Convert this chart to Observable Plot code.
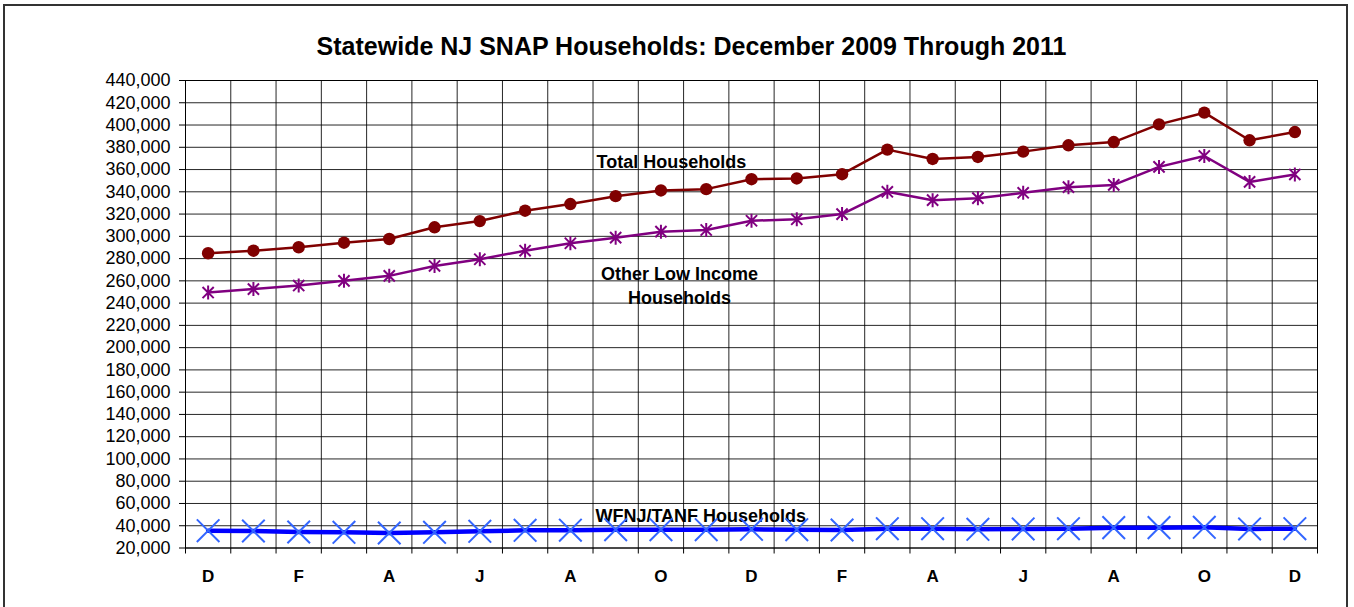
<!DOCTYPE html>
<html>
<head>
<meta charset="utf-8">
<script src="https://cdn.jsdelivr.net/npm/d3@7"></script>
<script src="https://cdn.jsdelivr.net/npm/@observablehq/plot@0.6"></script>
<style>
  html, body { margin: 0; padding: 0; background: #fff; }
  body { width: 1354px; height: 607px; overflow: hidden; position: relative; font-family: "Liberation Sans", Arial, sans-serif; }
  #frame { position: absolute; left: 3px; top: 4px; width: 1345px; height: 640px; border: 2px solid #333; box-sizing: border-box; }
  #title { position: absolute; left: 0; top: 34px; width: 1383px; text-align: center; font-size: 25px; line-height: 25px; font-weight: bold; color: #000; }
  #chart { position: absolute; left: 0; top: 60px; }
</style>
</head>
<body>
<div id="frame"></div>
<div id="title">Statewide NJ SNAP Households: December 2009 Through 2011</div>
<div id="chart"></div>
<script>
// Months from December 2009 through December 2011
const months = ["D","J","F","M","A","M","J","J","A","S","O","N","D","J","F","M","A","M","J","J","A","S","O","N","D"];

const totalHouseholds = [284800, 287100, 290200, 294300, 297600, 308100, 313700, 323000, 329000, 336100, 341200, 342400, 351300, 352000, 355800, 377900, 369500, 371300, 376100, 381800, 384700, 400600, 411100, 386300, 393700];
const otherLowIncome = [249500, 252600, 255800, 260000, 264500, 273400, 279400, 287100, 293800, 298800, 304200, 305700, 314000, 315300, 320000, 340000, 332500, 334300, 339100, 344200, 346200, 362400, 372200, 348900, 355600];
const wfnjTanf = [35600, 35300, 34400, 34100, 33500, 34100, 35000, 35900, 36000, 36500, 36500, 36500, 36800, 36500, 36200, 37400, 37400, 36800, 37100, 37400, 38300, 38300, 38600, 37100, 37400];

const yTicks = d3.range(20000, 440001, 20000);

const seriesLabels = [
  {label: "Total Households", at: 10.23, value: 368200},
  {label: "Other Low Income\nHouseholds", at: 10.41, value: 256800},
  {label: "WFNJ/TANF Households", at: 10.88, value: 50300}
];

const rows = months.map((m, i) => ({i, month: m, total: totalHouseholds[i], other: otherLowIncome[i], wfnj: wfnjTanf[i]}));
const bounds = d3.range(months.length + 1).map(k => k - 0.5);
const labelIdx = d3.range(0, months.length, 2);

const xSymbol = {
  draw(ctx, size) {
    const r = Math.sqrt(size / Math.PI);
    ctx.moveTo(-r, -r); ctx.lineTo(r, r);
    ctx.moveTo(-r, r); ctx.lineTo(r, -r);
  }
};
const starSymbol = {
  draw(ctx, size) {
    const r = Math.sqrt(size / Math.PI);
    const d = r * 0.8;
    ctx.moveTo(0, -r); ctx.lineTo(0, r);
    ctx.moveTo(-d, -d); ctx.lineTo(d, d);
    ctx.moveTo(-d, d); ctx.lineTo(d, -d);
  }
};

const chart = Plot.plot({
  width: 1354,
  height: 540,
  marginLeft: 185,
  marginRight: 37,
  marginTop: 20,
  marginBottom: 52.5,
  x: {domain: [-0.5, months.length - 0.5], axis: null},
  y: {domain: [20000, 440000], axis: null},
  style: {fontFamily: "'Liberation Sans', Arial, sans-serif", fontSize: "18px", color: "#000", background: "transparent", overflow: "visible"},
  marks: [
    Plot.gridY(yTicks, {stroke: "#000", strokeOpacity: 0.85, strokeWidth: 1}),
    Plot.gridX(bounds, {stroke: "#000", strokeOpacity: 0.85, strokeWidth: 1}),
    Plot.frame({stroke: "#000", strokeWidth: 1}),
    Plot.axisY(yTicks, {tickSize: 6, tickPadding: 9, tickFormat: d3.format(","), fontSize: 18, label: null}),
    Plot.axisX(bounds, {tickSize: 6, tickFormat: () => "", label: null}),
    Plot.axisX(labelIdx, {tickSize: 0, tickPadding: 21.5, tickFormat: i => months[i], fontWeight: "bold", fontSize: 17, label: null}),
    Plot.line(rows, {x: "i", y: "total", stroke: "#800000", strokeWidth: 2.5}),
    Plot.dot(rows, {x: "i", y: "total", r: 6.2, fill: "#800000", stroke: "none"}),
    Plot.line(rows, {x: "i", y: "other", stroke: "#800080", strokeWidth: 2.5}),
    Plot.dot(rows, {x: "i", y: "other", r: 7, symbol: starSymbol, fill: "none", stroke: "#800080", strokeWidth: 2}),
    Plot.line(rows, {x: "i", y: "wfnj", stroke: "#0000FF", strokeWidth: 4.5}),
    Plot.text(seriesLabels, {x: "at", y: "value", text: "label", fontWeight: "bold", fontSize: 18, lineHeight: 1.32, fill: "#000"}),
    Plot.dot(rows, {x: "i", y: "wfnj", r: 11.3, symbol: xSymbol, fill: "none", stroke: "#3366FF", strokeWidth: 2})
  ]
});
document.getElementById("chart").appendChild(chart);
</script>
</body>
</html>
